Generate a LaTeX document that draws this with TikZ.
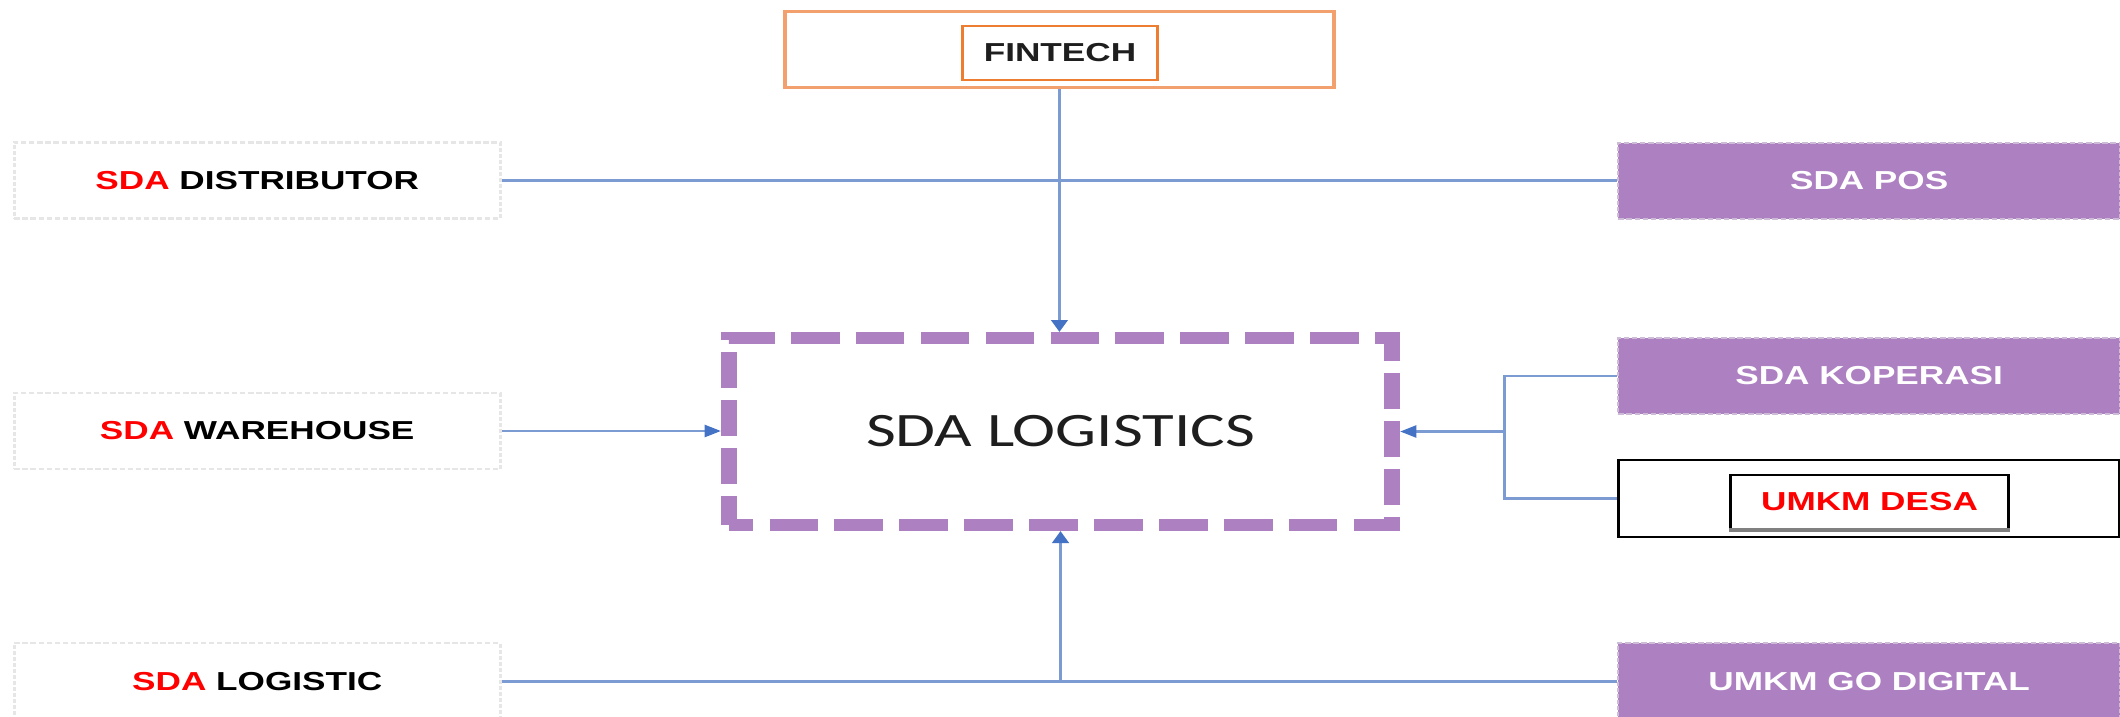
\documentclass[tikz,border=0pt]{standalone}
\usepackage{fontspec}
\usetikzlibrary{arrows.meta}

\newfontfamily\lblfont{Liberation Sans}
\newfontfamily\hubfont{Carlito}

\definecolor{linkblue}{RGB}{124,155,211}
\definecolor{tipblue}{RGB}{68,114,196}
\definecolor{sdapurple}{RGB}{173,128,194}
\definecolor{sdared}{RGB}{255,0,0}
\definecolor{edgegray}{RGB}{230,230,230}
\definecolor{purpleedge}{RGB}{205,188,214}
\definecolor{fintechedge}{RGB}{242,160,110}
\definecolor{fintechinner}{RGB}{237,125,49}
\definecolor{inkdark}{RGB}{30,30,30}

\tikzset{
  lbl/.style={font=\lblfont\bfseries\fontsize{13}{15}\selectfont, inner sep=0pt},
  plainbox/.style={lbl, draw=edgegray, line width=1.2pt, dash pattern=on 2pt off 1pt,
    fill=white, minimum height=38pt, text=black},
  purplebox/.style={lbl, fill=sdapurple, draw=purpleedge, line width=0.8pt,
    dash pattern=on 2pt off 1pt, minimum height=38pt, minimum width=185.5pt, text=white},
  hub/.style={draw=sdapurple, line width=6pt, dash pattern=on 18pt off 6pt, dash phase=9pt,
    inner sep=0pt, minimum width=245.2pt, minimum height=93.5pt,
    font=\hubfont\fontsize{24}{28}\selectfont, text=inkdark},
  link/.style={draw=linkblue, line width=1.25pt},
  feed/.style={link, -{Triangle[length=6pt,width=6pt,color=tipblue]}},
}

\begin{document}
\begin{tikzpicture}[x=0.5pt, y=-0.5pt]
  % page frame
  \fill[white] (0pt,0pt) rectangle (1060pt,-358.5pt);
  \useasboundingbox (0pt,0pt) rectangle (1060pt,-358.5pt);

  \begin{scope}[transform canvas={xscale=1.352}]
    % central hub
    \node[hub] (hub) at (784.4,431.5) {SDA LOGISTICS};

    % top source
    \node[draw=fintechedge, line width=1.5pt, inner sep=0pt,
          minimum width=203pt, minimum height=38pt] (fintech) at (783.6,50) {};
    \node[lbl, draw=fintechinner, line width=1.2pt, text=inkdark,
          minimum width=72.25pt, minimum height=27pt] (fintechin) at (784,53) {FINTECH};

    % left column
    \node[plainbox, minimum width=179.75pt] (dist) at (190.25,180.5)
      {\textcolor{sdared}{SDA} DISTRIBUTOR};
    \node[plainbox, minimum width=179.75pt] (ware) at (190.25,431)
      {\textcolor{sdared}{SDA} WAREHOUSE};
    \node[plainbox, minimum width=179.75pt, minimum height=38.5pt] (logi) at (190.25,681.5)
      {\textcolor{sdared}{SDA} LOGISTIC};

    % right column
    \node[purplebox] (pos) at (1382.5,181) {SDA POS};
    \node[purplebox] (kop) at (1382.5,376) {SDA KOPERASI};
    \node[draw=black, line width=1.25pt, fill=white, inner sep=0pt,
          minimum width=185.5pt, minimum height=38.5pt] (desa) at (1382.5,498.5) {};
    \node[lbl, draw=black, line width=1pt, fill=white, text=sdared,
          minimum width=103pt, minimum height=27pt] (desain) at (1382.8,502) {UMKM DESA};
    \draw[gray, line width=1.6pt] (desain.south west) -- (desain.south east);
    \node[purplebox, minimum height=38.5pt] (godig) at (1382.5,681.5) {UMKM GO DIGITAL};

    % connectors
    \coordinate (jx) at (1113,0);
    \draw[feed] (fintech.south) -- (fintech.south |- hub.north);
    \draw[link] (dist.east) -- (dist.east -| pos.west);
    \draw[feed] (ware.east) -- (ware.east -| hub.west);
    \draw[link] (kop.west) -| (jx |- desa.west) -- (desa.west);
    \draw[feed] (jx |- hub.east) -- (hub.east);
    \draw[link] (logi.east) -- (logi.east -| godig.west);
    \draw[feed] (hub.south |- logi.east) -- (hub.south);
  \end{scope}
\end{tikzpicture}
\end{document}
